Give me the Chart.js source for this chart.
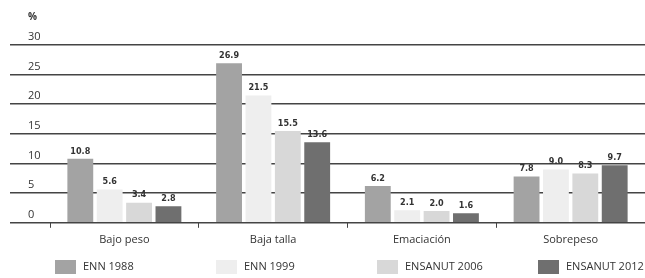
<!DOCTYPE html>
<html>
<head>
<meta charset="utf-8">
<script src="https://cdn.jsdelivr.net/npm/chart.js@4.4.1/dist/chart.umd.min.js"></script>
<style>
  html, body { margin: 0; padding: 0; background: #fff; }
  #wrap { width: 645px; height: 278px; }
</style>
</head>
<body>
<div id="wrap"><canvas id="chart" width="645" height="278"></canvas></div>
<script>
const categories = ['Bajo peso', 'Baja talla', 'Emaciación', 'Sobrepeso'];
const seriesNames = ['ENN 1988', 'ENN 1999', 'ENSANUT 2006', 'ENSANUT 2012'];
const enn1988 = [10.8, 26.9, 6.2, 7.8];
const enn1999 = [5.6, 21.5, 2.1, 9.0];
const ensanut2006 = [3.4, 15.5, 2.0, 8.3];
const ensanut2012 = [2.8, 13.6, 1.6, 9.7];
const yTicks = [0, 5, 10, 15, 20, 25, 30];

const colors = ['#a3a3a3', '#eeeeee', '#d8d8d8', '#6f6f6f'];
const textColor = '#333';

// value labels above each bar
const valueLabels = {
  id: 'valueLabels',
  afterDatasetsDraw (chart) {
    const { ctx } = chart;
    ctx.save();
    ctx.font = 'bold 9px "DejaVu Sans Condensed", "Liberation Sans", sans-serif';
    ctx.fillStyle = textColor;
    ctx.textAlign = 'center';
    ctx.textBaseline = 'bottom';
    chart.data.datasets.forEach((ds, i) => {
      chart.getDatasetMeta(i).data.forEach((bar, j) => {
        ctx.fillText(ds.data[j].toFixed(1), bar.x, bar.y - 3);
      });
    });
    ctx.restore();
  }
};

// legend in four even columns under the chart
const columnLegend = {
  id: 'columnLegend',
  afterDraw (chart) {
    const { ctx } = chart;
    const y = 267;
    ctx.save();
    ctx.font = '11px "Open Sans", "Liberation Sans", sans-serif';
    ctx.textBaseline = 'middle';
    ctx.textAlign = 'left';
    chart.data.datasets.forEach((ds, i) => {
      const x = 55 + i * 161;
      ctx.fillStyle = ds.backgroundColor;
      ctx.fillRect(x, y - 7, 21, 14);
      ctx.fillStyle = textColor;
      ctx.fillText(ds.label, x + 28, y);
    });
    ctx.restore();
  }
};

// eslint-disable-next-line no-undef
const chart = new Chart('chart', {
  type: 'bar',
  data: {
    labels: categories,
    datasets: [
      { label: seriesNames[0], data: enn1988, backgroundColor: colors[0] },
      { label: seriesNames[1], data: enn1999, backgroundColor: colors[1] },
      { label: seriesNames[2], data: ensanut2006, backgroundColor: colors[2] },
      { label: seriesNames[3], data: ensanut2012, backgroundColor: colors[3] }
    ]
  },
  options: {
    responsive: false,
    animation: false,
    layout: { padding: { left: 28, right: 0, top: 9, bottom: 27 } },
    datasets: {
      bar: { categoryPercentage: 0.79, barPercentage: 0.88 }
    },
    plugins: {
      legend: { display: false },
      tooltip: { enabled: false },
      title: {
        display: true,
        text: '%',
        align: 'start',
        color: textColor,
        font: { size: 10, weight: 'bold', family: '"Open Sans", sans-serif' },
        padding: { top: 2, bottom: 22 }
      }
    },
    scales: {
      x: {
        border: { display: false },
        grid: {
          offset: true,
          drawOnChartArea: false,
          tickLength: 5,
          color: '#444',
          lineWidth: 1
        },
        ticks: {
          color: textColor,
          padding: 5,
          font: { size: 11, family: '"Open Sans", "Liberation Sans", sans-serif' }
        }
      },
      y: {
        min: 0,
        max: 30,
        afterFit (scale) { scale.width = 22; },
        afterBuildTicks (scale) { scale.ticks = yTicks.map(value => ({ value })); },
        border: { display: false },
        grid: {
          color: '#444',
          lineWidth: 1.6,
          tickLength: 40
        },
        ticks: {
          crossAlign: 'far',
          labelOffset: -8,
          color: textColor,
          font: { size: 11, family: '"Open Sans", "Liberation Sans", sans-serif' }
        }
      }
    }
  },
  plugins: [valueLabels, columnLegend]
});
</script>
</body>
</html>
